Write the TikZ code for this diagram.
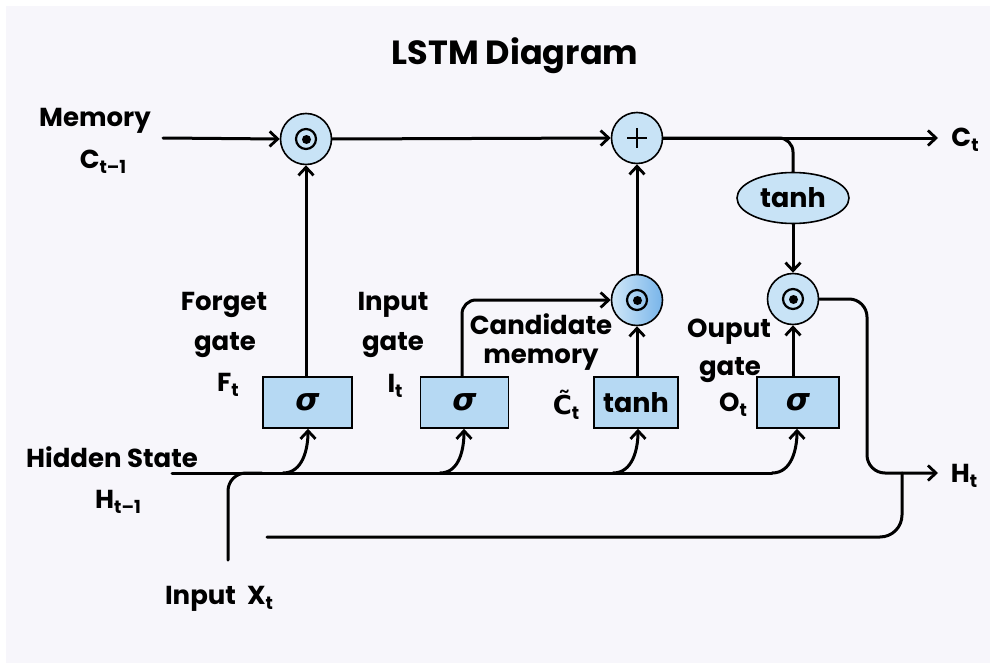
\documentclass[tikz,border=0pt]{standalone}
\usepackage{fontspec}
\setmainfont{Poppins}
\newfontfamily\symfont{DejaVu Sans}
\usetikzlibrary{arrows.meta,shapes.geometric}
\definecolor{bg}{HTML}{F7F6FB}
\definecolor{boxblue}{HTML}{B6D9F3}
\definecolor{circblue}{HTML}{C8E3F6}
\definecolor{deepblue}{HTML}{78B4EA}
\tikzset{
  wire/.style={line width=3pt, line cap=round, rounded corners=14pt},
  arr/.style={wire, -{Straight Barb[length=8pt,width=15pt,line width=2.8pt]}},
  gatebox/.style={draw, line width=1.6pt, fill=boxblue, minimum height=51pt, inner sep=0pt},
  opcirc/.style={circle, draw, line width=1.6pt, fill=circblue, minimum size=51pt, inner sep=0pt},
  lbl/.style={font=\fontsize{26}{28}\selectfont\bfseries, inner sep=0pt},
  boxtxt/.style={font=\fontsize{27}{29}\selectfont\bfseries},
}
\newcommand{\lsub}[1]{\raisebox{-0.35ex}{\fontsize{18}{19}\selectfont #1}}
\newcommand{\sig}{{\fontsize{31}{33}\selectfont\symfont\bfseries\itshape σ}}
\begin{document}
\begin{tikzpicture}[x=1pt,y=-1pt]
  \fill[white] (0,0) rectangle (996,669);
  \fill[bg] (6,6) rectangle (990,663);
  \useasboundingbox (0,0) rectangle (996,669);

  % title
  \node[font=\fontsize{33.5}{36}\selectfont\bfseries] (title) at (515,56) {LSTM Diagram};

  % operation circles
  \node[opcirc] (m1) at (306,139) {};
  \node[opcirc] (plus) at (637,138) {};
  \node[opcirc, left color=circblue!85!white, right color=deepblue] (m2) at (637,300) {};
  \node[opcirc] (m3) at (793,299) {};
  \foreach \c in {m1,m2,m3}{
    \draw[line width=2.2pt] (\c) circle (10pt);
    \fill (\c) ++(0.5,0.5) circle (4.5pt);
  }
  \draw[line width=1.8pt] (plus.center) ++(-10,0) -- ++(20,0);
  \draw[line width=1.8pt] (plus.center) ++(0,-10) -- ++(0,20);

  % gate boxes
  \node[gatebox, minimum width=89pt] (fg) at (307.5,402.5) {\sig};
  \node[gatebox, minimum width=88pt] (ig) at (464.5,402.5) {\sig};
  \node[gatebox, minimum width=84pt, boxtxt] (cg) at (636,402.5) {tanh};
  \node[gatebox, minimum width=82pt] (og) at (798,402.5) {\sig};

  % tanh ellipse
  \node[ellipse, draw, line width=1.6pt, fill=circblue, minimum width=112pt, minimum height=51pt, inner sep=0pt, boxtxt] (th) at (793,198) {tanh};

  % coordinates
  \coordinate (cin) at (163,138);
  \coordinate (cout) at (938,138);
  \coordinate (hin) at (172,473);
  \coordinate (hout) at (938,473);
  \coordinate (xin) at (228,560);
  \coordinate (low) at (267,537);

  % cell state line
  \draw[arr] (cin) -- (m1.west);
  \draw[arr] (m1.east) -- (plus.west);
  \draw[arr] (plus.east) -- (cout);
  \draw[wire] (plus.east) -| (th.north);
  \draw[arr] (th.south) -- (m3.north);

  % gate outputs
  \draw[arr] (fg.north -| m1) -- (m1.south);
  \draw[arr] (ig.north -| 462,0) |- (m2.west);
  \draw[arr] (cg.north -| m2) -- (m2.south);
  \draw[arr] (m2.north) -- (plus.south);
  \draw[arr] (og.north -| m3) -- (m3.south);

  % hidden state line and branches
  \draw[wire] (hin) -- (772,473);
  \draw[arr, rounded corners=0pt] (772,473) to[out=0,in=-90] (og.south -| 797,0);
  \draw[arr, rounded corners=0pt] (283,473) to[out=0,in=-90] (fg.south -| 308,0);
  \draw[arr, rounded corners=0pt] (440,473) to[out=0,in=-90] (ig.south -| 464,0);
  \draw[arr, rounded corners=0pt] (613,473) to[out=0,in=-90] (cg.south -| 638,0);

  % input x
  \draw[wire, rounded corners=18pt] (xin) |- (262,473);

  % lower line
  \draw[wire, rounded corners=22pt] (low) -| (902,473);

  % output hidden state
  \draw[arr, rounded corners=18pt] (m3.east) -| (867,473) -- (hout);

  % labels
  \node[lbl] (lmem) at (95,121) {Memory};
  \node[lbl] (lc1) at (103,162) {C\lsub{t–1}};
  \node[lbl] (lct) at (965,140) {C\lsub{t}};
  \node[lbl] (lf1) at (224,305) {Forget};
  \node[lbl] (lf2) at (225,345) {gate};
  \node[lbl] (lf3) at (228,385) {F\lsub{t}};
  \node[lbl] (li1) at (393,305) {Input};
  \node[lbl] (li2) at (393,345) {gate};
  \node[lbl] (li3) at (395,386) {I\lsub{t}};
  \node[lbl] (lc1a) at (541,324) {Candidate};
  \node[lbl] (lc2a) at (541,360) {memory};
  \node[lbl] (lc3a) at (566,405) {{\symfont C\char"0303}\lsub{t}};
  \node[lbl] (lo1) at (729,332) {Ouput};
  \node[lbl] (lo2) at (730,370) {gate};
  \node[lbl] (lo3) at (733,405) {O\lsub{t}};
  \node[lbl] (lht) at (964,476) {H\lsub{t}};
  \node[lbl] (lhs) at (112,457) {Hidden State};
  \node[lbl] (lh1) at (118,502) {H\lsub{t–1}};
  \node[lbl] (lx) at (219,599) {Input\ \ X\lsub{t}};
\end{tikzpicture}
\end{document}
